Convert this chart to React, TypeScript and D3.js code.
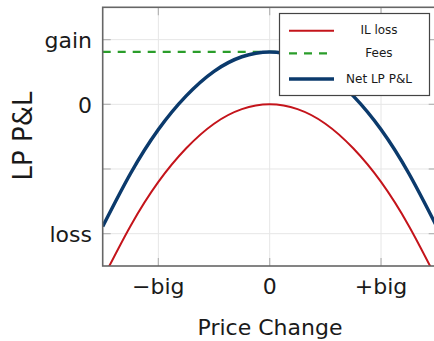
import React, { useEffect, useRef } from "react";
import * as d3 from "d3";

// price change (in "big" units) where curve values were read
const priceSteps = [-1.5, -1.25, -1, -0.75, -0.5, -0.25, 0, 0.25, 0.5, 0.75, 1, 1.25, 1.5];
// impermanent loss
const ilLoss = [-2.7, -1.88, -1.2, -0.68, -0.3, -0.075, 0, -0.075, -0.3, -0.68, -1.2, -1.88, -2.7];
// net LP P&L
const netPnl = [-1.89, -1.07, -0.39, 0.13, 0.51, 0.735, 0.81, 0.735, 0.51, 0.13, -0.39, -1.07, -1.89];
// fee income level (flat dashed line) and where it runs
const feeLevel = 0.81;
const feeRange = [-1.5, 1.4];

const xTicks = [-1, 0, 1];
const xTickLabels = ["\u2212big", "0", "+big"];
const yTicks = [-2, -1, 0, 1];
const yTickLabels = ["loss", "", "0", "gain"];

const legendItems = [
  { label: "IL loss", color: "#c4141b", width: 2, dash: null },
  { label: "Fees", color: "#2a9d2a", width: 2.2, dash: "8,7" },
  { label: "Net LP P&L", color: "#0b3a6c", width: 3.5, dash: null },
];

const FONT = "'DejaVu Sans', sans-serif";

export default function App() {
  const ref = useRef<SVGSVGElement>(null);

  useEffect(() => {
    const width = 434;
    const height = 341;
    const left = 102.7;
    const right = 436.7;
    const top = 7.3;
    const bottom = 266;

    const svg = d3.select(ref.current).attr("width", width).attr("height", height);
    svg.selectAll("*").remove();

    const x = d3.scaleLinear().domain([-1.5, 1.5]).range([left, right]);
    const y = d3.scaleLinear().domain([-2.5, 1.5]).range([bottom, top]);

    svg.append("defs").append("clipPath").attr("id", "plotclip")
      .append("rect")
      .attr("x", left).attr("y", top)
      .attr("width", right - left).attr("height", bottom - top);

    // grid
    const grid = svg.append("g");
    grid.selectAll(".gx").data(xTicks).enter().append("line")
      .attr("x1", d => x(d)).attr("x2", d => x(d))
      .attr("y1", top).attr("y2", bottom)
      .attr("stroke", "#e6e6e6").attr("stroke-width", 1);
    grid.selectAll(".gy").data(yTicks).enter().append("line")
      .attr("x1", left).attr("x2", right)
      .attr("y1", d => y(d)).attr("y2", d => y(d))
      .attr("stroke", "#e6e6e6").attr("stroke-width", 1);

    // tick marks (inside, all four sides)
    const tk = 8;
    const ticks = svg.append("g").attr("stroke", "#b4b4b4").attr("stroke-width", 1.2);
    yTicks.forEach(v => {
      ticks.append("line").attr("x1", left).attr("x2", left + tk).attr("y1", y(v)).attr("y2", y(v));
      ticks.append("line").attr("x1", right - tk).attr("x2", right).attr("y1", y(v)).attr("y2", y(v));
    });
    xTicks.forEach(v => {
      ticks.append("line").attr("x1", x(v)).attr("x2", x(v)).attr("y1", bottom).attr("y2", bottom - tk);
      ticks.append("line").attr("x1", x(v)).attr("x2", x(v)).attr("y1", top).attr("y2", top + tk);
    });

    const curves = svg.append("g").attr("clip-path", "url(#plotclip)");
    const line = d3.line<number>()
      .x((_, i) => x(priceSteps[i]))
      .y(d => y(d))
      .curve(d3.curveNatural);

    curves.append("path").datum(ilLoss)
      .attr("d", line)
      .attr("fill", "none")
      .attr("stroke", legendItems[0].color)
      .attr("stroke-width", legendItems[0].width);

    curves.append("line")
      .attr("x1", x(feeRange[0])).attr("x2", x(feeRange[1]))
      .attr("y1", y(feeLevel)).attr("y2", y(feeLevel))
      .attr("stroke", legendItems[1].color)
      .attr("stroke-width", legendItems[1].width)
      .attr("stroke-dasharray", legendItems[1].dash);

    curves.append("path").datum(netPnl)
      .attr("d", line)
      .attr("fill", "none")
      .attr("stroke", legendItems[2].color)
      .attr("stroke-width", legendItems[2].width);

    // frame
    svg.append("rect")
      .attr("x", left).attr("y", top)
      .attr("width", right - left).attr("height", bottom - top)
      .attr("fill", "none")
      .attr("stroke", "#666")
      .attr("stroke-width", 1.6);

    // tick labels
    svg.selectAll(".xl").data(xTicks).enter().append("text")
      .attr("x", d => x(d)).attr("y", 294)
      .attr("text-anchor", "middle")
      .style("font-family", FONT).style("font-size", "22px").attr("fill", "#1a1a1a")
      .text((_, i) => xTickLabels[i]);

    svg.selectAll(".yl").data(yTicks).enter().append("text")
      .attr("x", 92).attr("y", d => y(d) + 8.5)
      .attr("text-anchor", "end")
      .style("font-family", FONT).style("font-size", "22px").attr("fill", "#1a1a1a")
      .text((_, i) => yTickLabels[i]);

    // axis titles
    svg.append("text")
      .attr("x", 270).attr("y", 335)
      .attr("text-anchor", "middle")
      .style("font-family", FONT).style("font-size", "22px").attr("fill", "#1a1a1a")
      .text("Price Change");

    svg.append("text")
      .attr("transform", "rotate(-90)")
      .attr("x", -136).attr("y", 32)
      .attr("text-anchor", "middle")
      .style("font-family", FONT).style("font-size", "26px").attr("fill", "#1a1a1a")
      .text("LP P&L");

    // legend
    const lg = svg.append("g");
    lg.append("rect")
      .attr("x", 279.5).attr("y", 13.5)
      .attr("width", 150).attr("height", 82)
      .attr("fill", "white")
      .attr("stroke", "#444").attr("stroke-width", 1.2);
    const rowY = [30.7, 53.3, 79];
    legendItems.forEach((it, i) => {
      lg.append("line")
        .attr("x1", 289).attr("x2", 334)
        .attr("y1", rowY[i]).attr("y2", rowY[i])
        .attr("stroke", it.color)
        .attr("stroke-width", it.width)
        .attr("stroke-dasharray", it.dash);
      lg.append("text")
        .attr("x", 379).attr("y", rowY[i] + 3.5)
        .attr("text-anchor", "middle")
        .style("font-family", FONT).style("font-size", "12px").attr("fill", "#1a1a1a")
        .text(it.label);
    });
  }, []);

  return (
    <div style={{ position: "absolute", left: 0, top: 0 }}>
      <svg ref={ref} style={{ display: "block" }}></svg>
    </div>
  );
}
